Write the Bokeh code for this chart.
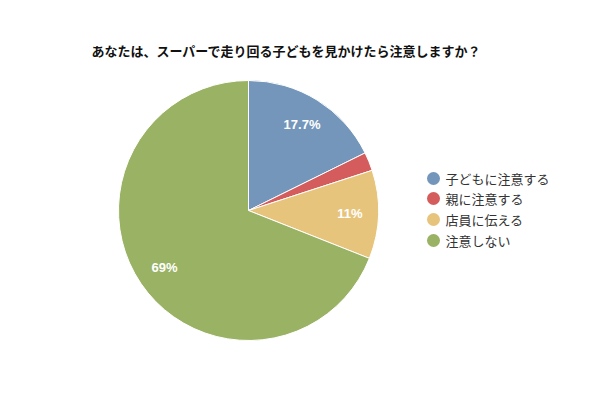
import math
from bokeh.plotting import figure
from bokeh.models import Range1d, ColumnDataSource
from bokeh.core.properties import value
from bokeh.embed import file_html
from bokeh.resources import INLINE

title = "あなたは、スーパーで走り回る子どもを見かけたら注意しますか？"
categories = ["子どもに注意する", "親に注意する", "店員に伝える", "注意しない"]
values = [17.7, 2.3, 11, 69]
pct_labels = ["17.7%", "", "11%", "69%"]
colors = ["#7396BA", "#D45C5C", "#E7C47C", "#99B264"]

W, H = 584, 384
p = figure(width=W, height=H, output_backend="svg", toolbar_location=None,
           x_range=Range1d(0, W), y_range=Range1d(0, H),
           x_axis_type=None, y_axis_type=None, min_border=0)
p.outline_line_color = None
p.grid.visible = False

def sy(y):  # screen y -> data y
    return H - y

def sx(x):
    return x

cx, cy, r = sx(248), sy(210), 130
total = sum(values)
starts, ends, lx, ly = [], [], [], []
cum = 0.0
for v in values:
    a0 = math.pi / 2 - 2 * math.pi * cum / total
    cum += v
    a1 = math.pi / 2 - 2 * math.pi * cum / total
    starts.append(a0)
    ends.append(a1)
    mid = (a0 + a1) / 2
    lx.append(cx + 0.78 * r * math.cos(mid))
    ly.append(cy + 0.78 * r * math.sin(mid))

src = ColumnDataSource(dict(start=starts, end=ends, color=colors, cat=categories,
                            lx=lx, ly=ly, lab=pct_labels))
p.wedge(x=cx, y=cy, radius=r, start_angle="start", end_angle="end",
        direction="clock", fill_color="color", line_color="white", line_width=1, source=src)
p.text(x="lx", y="ly", text="lab", source=src, text_color="white",
       text_font=value("Liberation Sans"), text_font_style="bold", text_font_size="13px",
       text_align="center", text_baseline="middle")

# title
p.text(x=[sx(91)], y=[sy(50)], text=[title], text_font=value("Noto Sans CJK JP"),
       text_font_style="bold", text_font_size="13px", text_color="#111111",
       text_align="left", text_baseline="middle")

# legend
ley = [sy(178), sy(198), sy(219), sy(240)]
p.scatter(x=[sx(433)] * 4, y=ley, size=13, marker="circle", fill_color=colors, line_color=None)
p.text(x=[sx(445)] * 4, y=ley, text=categories, text_font=value("Noto Sans CJK JP"),
       text_font_size="13px", text_color="#333333", text_align="left", text_baseline="middle")

open("out.html", "w").write(file_html(p, INLINE))
